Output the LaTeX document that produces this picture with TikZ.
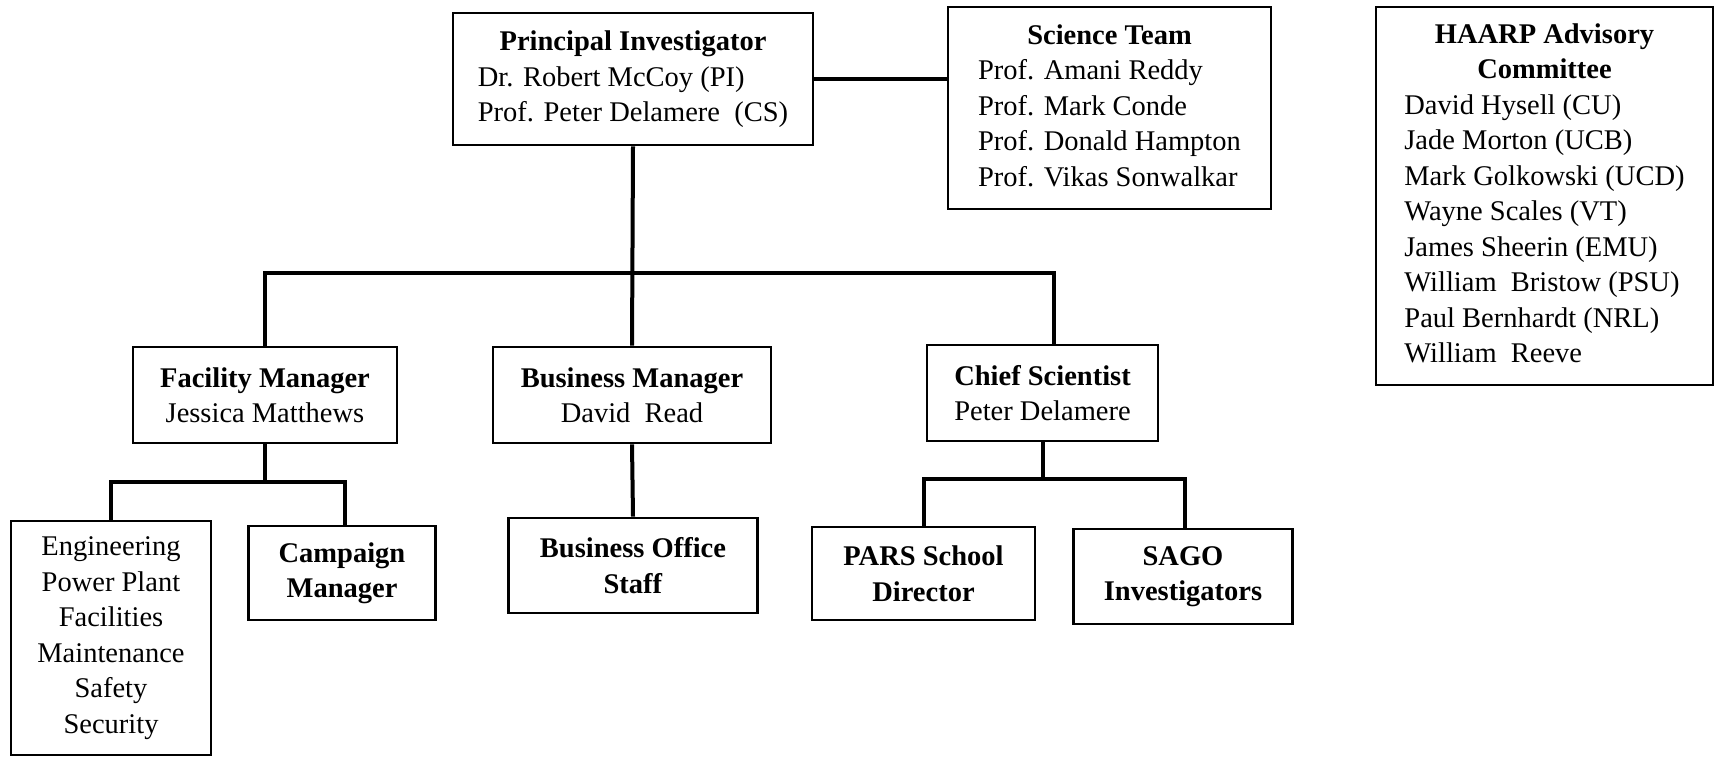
\documentclass[tikz,border=0pt]{standalone}
\usepackage{fontspec}
\setmainfont{Liberation Serif}
\begin{document}
\begin{tikzpicture}[x=1pt,y=-1pt,
  box/.style={draw, line width=2.8pt, inner sep=0pt, align=center,
    font=\fontsize{28.5}{35.5}\selectfont},
  conn/.style={line width=4pt}]
\useasboundingbox (0,0) rectangle (1715,756);
% top level
\node[box, minimum width=360, minimum height=132] (pi) at (633,79)
  {\begin{tabular}{@{}l@{}}\multicolumn{1}{@{}c@{}}{\textbf{Principal Investigator}}\\
   Dr. Robert McCoy (PI)\\ Prof. Peter Delamere\enspace(CS)\end{tabular}};
\node[box, minimum width=323, minimum height=202] (sci) at (1109.5,108)
  {\begin{tabular}{@{}l@{}}\multicolumn{1}{@{}c@{}}{\textbf{Science Team}}\\
   Prof. Amani Reddy\\ Prof. Mark Conde\\ Prof. Donald Hampton\\ Prof. Vikas Sonwalkar\end{tabular}};
\node[box, minimum width=337, minimum height=378] (haarp) at (1544.5,196)
  {\begin{tabular}{@{}l@{}}\multicolumn{1}{@{}c@{}}{\textbf{HAARP Advisory}}\\
   \multicolumn{1}{@{}c@{}}{\textbf{Committee}}\\
   David Hysell (CU)\\ Jade Morton (UCB)\\ Mark Golkowski (UCD)\\ Wayne Scales (VT)\\
   James Sheerin (EMU)\\ William\enspace Bristow (PSU)\\ Paul Bernhardt (NRL)\\ William\enspace Reeve\end{tabular}};
% second level
\node[box, minimum width=264, minimum height=96] (fac) at (265,395)
  {\textbf{Facility Manager}\\ Jessica Matthews};
\node[box, minimum width=278, minimum height=96] (bus) at (632,395)
  {\textbf{Business Manager}\\ David\enspace Read};
\node[box, minimum width=231, minimum height=96] (chief) at (1042.5,393)
  {\textbf{Chief Scientist}\\ Peter Delamere};
% third level
\node[box, minimum width=200, minimum height=234] (eng) at (111,638)
  {Engineering\\ Power Plant\\ Facilities\\ Maintenance\\ Safety\\ Security};
\node[box, minimum width=187.5, minimum height=94] (camp) at (342,573)
  {\textbf{Campaign}\\ \textbf{Manager}};
\node[box, minimum width=248.5, minimum height=95] (bos) at (633,565.5)
  {\textbf{Business Office}\\ \textbf{Staff}};
\node[box, minimum width=223, minimum height=93] (pars) at (923.5,573.5)
  {\textbf{PARS School}\\ \textbf{Director}};
\node[box, minimum width=218.5, minimum height=95] (sago) at (1183,576.5)
  {\textbf{SAGO}\\ \textbf{Investigators}};
% bus coordinates
\coordinate (mainR) at (1053.6,273);
\coordinate (facR) at (345,481.7);
\coordinate (chiefR) at (1185,479);
% connectors
\draw[conn] (pi.east) -- (pi.east -| sci.west);
\draw[conn] (pi.south) -- (bus.north);
\draw[conn] (fac.north) |- (mainR) -- (mainR |- chief.north);
\draw[conn] (fac.south) -- (fac.south |- facR);
\draw[conn] (eng.north) |- (facR) -- (facR |- camp.north);
\draw[conn] (bus.south) -- (bos.north);
\draw[conn] (chief.south) -- (chief.south |- chiefR);
\draw[conn] (pars.north) |- (chiefR) -- (chiefR |- sago.north);
\end{tikzpicture}
\end{document}
